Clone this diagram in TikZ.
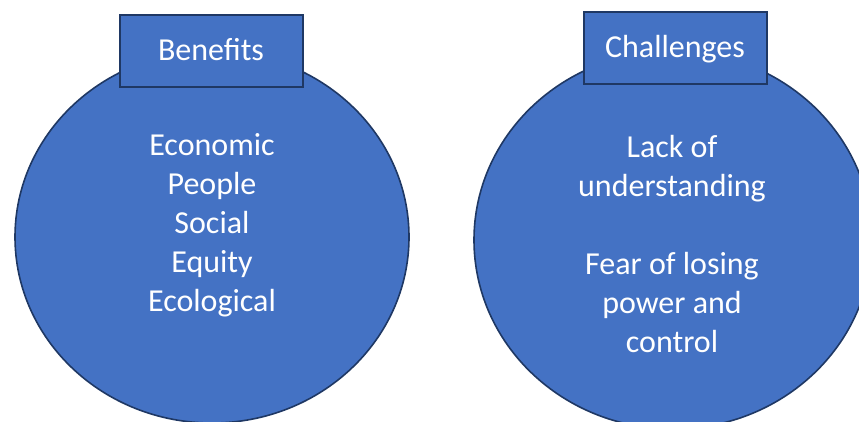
\documentclass[tikz,border=0pt]{standalone}
\usepackage{fontspec}
\setmainfont{Carlito}
\usetikzlibrary{shapes.geometric}
\definecolor{fillblue}{HTML}{4472C4}
\definecolor{edgeblue}{HTML}{1F3864}

\begin{document}
\begin{tikzpicture}[x=1pt,y=-1pt,
    disc/.style={ellipse, draw=edgeblue, fill=fillblue, line width=1.6pt, inner sep=0pt},
    heading/.style={rectangle, draw=edgeblue, fill=fillblue, line width=2pt,
      minimum width=183pt, minimum height=72pt, text=white,
      font=\fontsize{32}{39}\selectfont, text height=20pt, text depth=0pt},
    entries/.style={text=white, align=center, font=\fontsize{32}{39}\selectfont}
  ]
  \clip (0,0) rectangle (859,422);

  % Kreise
  \node[disc, minimum width=394pt, minimum height=372pt] (bdisc) at (212,237) {};
  \node[disc, minimum width=398pt, minimum height=378pt] (cdisc) at (673,240) {};

  % Ueberschriften
  \node[heading] (bhead) at (211,51) {Benefits};
  \node[heading] (chead) at (675,48) {Challenges};

  % Inhalte
  \node[entries] (blist) at (212,225) {Economic\\People\\Social\\Equity\\Ecological};
  \node[entries] (clist) at (672,244) {Lack of\\understanding\\[39pt]Fear of losing\\power and\\control};
\end{tikzpicture}
\end{document}
